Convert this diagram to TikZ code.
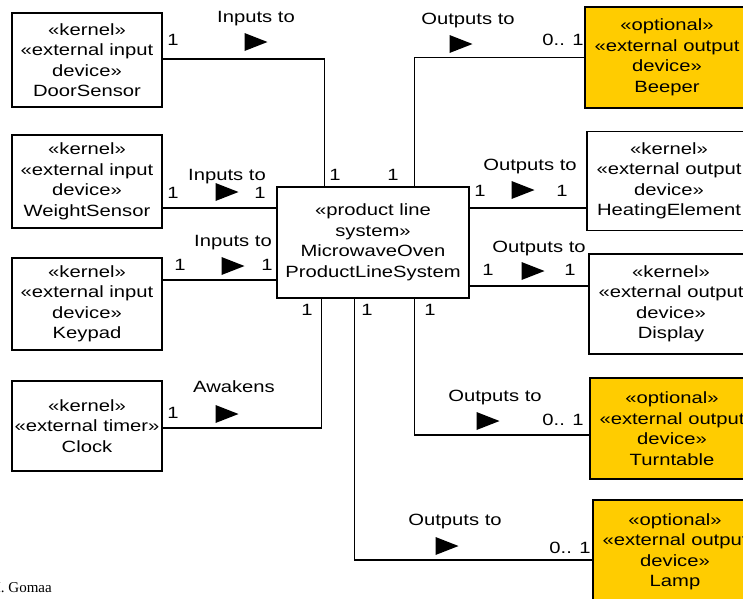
\documentclass[tikz,border=0pt]{standalone}
\usepackage{fontspec}
\setmainfont{Liberation Sans}[FakeStretch=1.24]
\newfontfamily\footfont{Liberation Serif}
\begin{document}
\begin{tikzpicture}[x=1pt,y=-1pt,
  base font/.style={font=\fontsize{16.3}{20.5}\selectfont},
  classbox/.style={draw, line width=1.3pt, align=center, inner sep=0pt,
    base font, fill=white},
  inbox/.style={classbox, minimum width=150pt},
  outbox/.style={classbox, minimum width=164pt},
  optbox/.style={outbox, fill=optcol},
  sysbox/.style={classbox, minimum width=192pt, minimum height=111pt},
  link/.style={line width=1.3pt},
  lbl/.style={base font, anchor=base, inner sep=0pt},
  dirtip/.pic={\fill (-11.5,-9) -- (11.5,0) -- (-11.5,9) -- cycle;}
]
\definecolor{optcol}{HTML}{FFCC00}
\useasboundingbox (0,0) rectangle (743,598);
\clip (0,0) rectangle (743,598);

% central system
\node[sysbox] (sys) at (373,242.5)
  {«product line\\system»\\MicrowaveOven\\ProductLineSystem};

% input devices and timer
\node[inbox, minimum height=94pt] (door) at (87,60)
  {«kernel»\\«external input\\device»\\DoorSensor};
\node[inbox, minimum height=93pt] (weight) at (87,181.5)
  {«kernel»\\«external input\\device»\\WeightSensor};
\node[inbox, minimum height=92pt] (keypad) at (87,304)
  {«kernel»\\«external input\\device»\\Keypad};
\node[inbox, minimum height=90pt] (clock) at (87,426)
  {«kernel»\\«external timer»\\Clock};

% output devices
\node[optbox, minimum height=101pt] (beeper) at (667,57.5)
  {«optional»\\«external output\\device»\\Beeper};
\node[outbox, minimum height=99pt] (heat) at (669,181)
  {«kernel»\\«external output\\device»\\HeatingElement};
\node[outbox, minimum height=100pt] (display) at (671,304)
  {«kernel»\\«external output\\device»\\Display};
\node[optbox, minimum height=101pt] (turn) at (672,428.5)
  {«optional»\\«external output\\device»\\Turntable};
\node[optbox, minimum height=104pt] (lamp) at (675,552)
  {«optional»\\«external output\\device»\\Lamp};

% associations
\draw[link] ([yshift=1pt]door.east) -| ([xshift=48pt]sys.north west);
\draw[link] ([yshift=-26.5pt]weight.east) -- ([yshift=-26.5pt]weight.east -| sys.west);
\draw[link] ([yshift=24pt]keypad.east) -- ([yshift=24pt]keypad.east -| sys.west);
\draw[link] ([yshift=-2pt]clock.east) -| ([xshift=45pt]sys.south west);
\draw[link] ([xshift=138pt]sys.north west) |- (beeper.west);
\draw[link] ([yshift=-27pt]heat.west -| sys.east) -- ([yshift=-27pt]heat.west);
\draw[link] ([yshift=18pt]display.west -| sys.east) -- ([yshift=18pt]display.west);
\draw[link] ([xshift=138pt]sys.south west) |- ([yshift=-6.5pt]turn.west);
\draw[link] ([xshift=78pt]sys.south west) |- ([yshift=-8pt]lamp.west);

% DoorSensor
\node[lbl] (dl) at (256,22) {Inputs to};
\node[lbl] (dm1) at (173,45) {1};
\pic at (256,42) {dirtip};
\node[lbl] (dm2) at (335,180) {1};
% WeightSensor
\node[lbl] (wl) at (227,180) {Inputs to};
\node[lbl] (wm1) at (173,198) {1};
\pic at (227,192) {dirtip};
\node[lbl] (wm2) at (260,198) {1};
% Keypad
\node[lbl] (kl) at (233,246) {Inputs to};
\node[lbl] (km1) at (180,270) {1};
\pic at (233,266) {dirtip};
\node[lbl] (km2) at (267,270) {1};
% Clock
\node[lbl] (cl) at (234,392) {Awakens};
\node[lbl] (cm1) at (173,418) {1};
\pic at (227,414) {dirtip};
\node[lbl] (cm2) at (307,315) {1};
% Beeper
\node[lbl] (bl) at (468,24) {Outputs to};
\pic at (461,44) {dirtip};
\node[lbl] (bm1) at (393,180) {1};
\node[lbl] (bm2) at (563,45) {0.. 1};
% HeatingElement
\node[lbl] (hl) at (530,170) {Outputs to};
\node[lbl] (hm1) at (480,196) {1};
\pic at (523,190) {dirtip};
\node[lbl] (hm2) at (562,196) {1};
% Display
\node[lbl] (sl) at (539,252) {Outputs to};
\node[lbl] (sm1) at (488,275) {1};
\pic at (533,271) {dirtip};
\node[lbl] (sm2) at (570,275) {1};
% Turntable
\node[lbl] (tl) at (495,401) {Outputs to};
\pic at (488,421) {dirtip};
\node[lbl] (tm1) at (430,315) {1};
\node[lbl] (tm2) at (563,425) {0.. 1};
% Lamp
\node[lbl] (ll) at (455,525) {Outputs to};
\pic at (447,546) {dirtip};
\node[lbl] (lm1) at (367,315) {1};
\node[lbl] (lm2) at (570,553) {0.. 1};

% credit line
\node[anchor=base east, inner sep=0pt, font=\footfont\fontsize{15}{18}\selectfont]
  (credit) at (52,592) {H. Gomaa};
\end{tikzpicture}
\end{document}
